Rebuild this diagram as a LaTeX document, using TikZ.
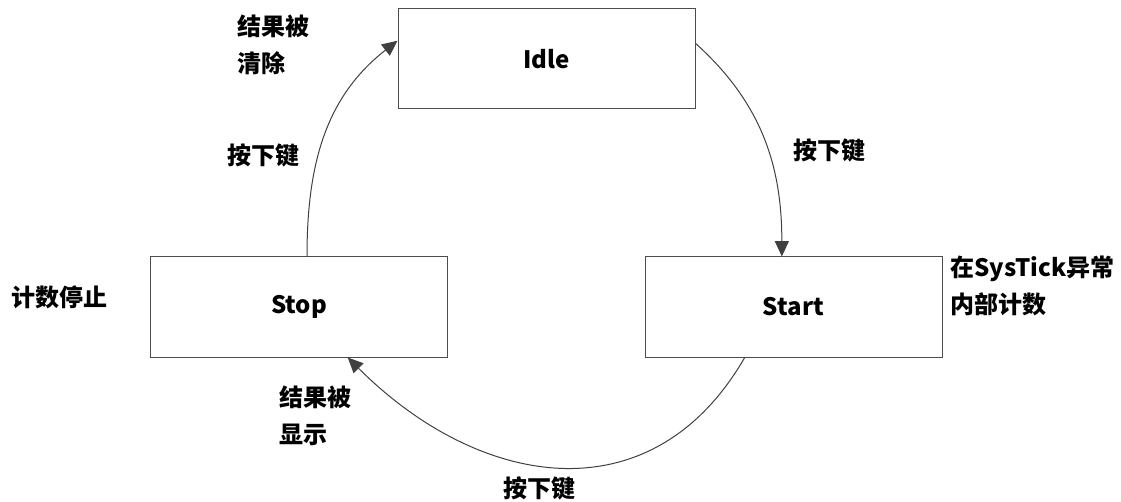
\documentclass[tikz,border=0pt]{standalone}
\usepackage{fontspec}
\setmainfont{Noto Sans CJK SC}
\usetikzlibrary{positioning, arrows.meta}
\tikzset{
	statenode/.style={
			rectangle,
			draw=black!70,
			line width=0.75pt,
			minimum width=222.75pt,
			minimum height=75pt,
			inner sep=0pt,
			font=\fontsize{18}{22}\selectfont\bfseries
		},
	notenode/.style={
			anchor=west,
			align=left,
			inner sep=0pt,
			font=\fontsize{18}{27.75}\selectfont\bfseries
		},
	transedge/.style={
			draw=black!75,
			line width=0.75pt,
			-{Triangle[length=11.5pt, width=10.5pt]}
		}
}
\begin{document}
\begin{tikzpicture}[x=0.75pt, y=0.75pt]
\useasboundingbox (0,0) rectangle (1121,-502);
    \node[statenode] (idle) at (546.5,-59)  { Idle };
    \node[statenode] (start) at (793.5,-307)  { Start };
    \node[statenode] (stop) at (299,-307)  { Stop };

    \node[notenode] (cleared) at (237,-44.5)  { 结果被\\清除 };
    \node[notenode] (keyleft) at (227,-155)  { 按下键 };
    \node[notenode] (keyright) at (793,-150)  { 按下键 };
    \node[notenode] (halted) at (11,-297)  { 计数停止 };
    \node[notenode] (counting) at (950,-286)  { 在SysTick异常\\内部计数 };
    \node[notenode] (shown) at (279,-416)  { 结果被\\显示 };
    \node[notenode, anchor=center] (keybottom) at (542,-488)  { 按下键 };

    \draw[transedge] (idle.6) to[out=-42, in=90] (start.103);
    \draw[transedge] (start.226) to[out=-120, in=-45, looseness=1.2] (stop.-46);
    \draw[transedge] (stop.81) to[out=90, in=-142] (idle.173);
    
\end{tikzpicture}
\end{document}
